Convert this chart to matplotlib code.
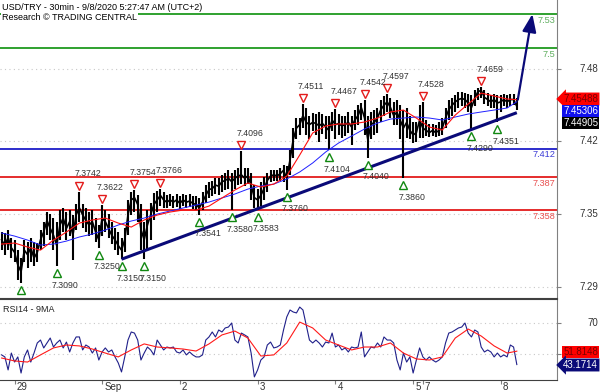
import numpy as np
import matplotlib
matplotlib.use("Agg")
import matplotlib.pyplot as plt
from matplotlib.transforms import offset_copy

plt.rcParams["font.family"] = ["Liberation Sans", "DejaVu Sans"]

# USD/TRY, one point per trading hour
close = [7.332, 7.327, 7.334, 7.325, 7.321, 7.310, 7.304, 7.323, 7.319, 7.325,
         7.316, 7.321, 7.332, 7.339, 7.349, 7.342, 7.336, 7.327, 7.345, 7.351,
         7.342, 7.348, 7.336, 7.354, 7.360, 7.354, 7.349, 7.345, 7.348, 7.339,
         7.332, 7.351, 7.348, 7.342, 7.336, 7.332, 7.327, 7.323, 7.332, 7.354,
         7.367, 7.369, 7.363, 7.341, 7.332, 7.345, 7.354, 7.363, 7.367, 7.371,
         7.367, 7.365, 7.367, 7.365, 7.367, 7.364, 7.367, 7.365, 7.366, 7.364,
         7.363, 7.360, 7.365, 7.371, 7.376, 7.377, 7.380, 7.379, 7.383, 7.384,
         7.386, 7.383, 7.386, 7.388, 7.389, 7.386, 7.388, 7.380, 7.369, 7.367,
         7.371, 7.377, 7.384, 7.388, 7.389, 7.388, 7.390, 7.393, 7.386, 7.402,
         7.420, 7.430, 7.433, 7.441, 7.435, 7.433, 7.435, 7.434, 7.432, 7.434,
         7.431, 7.428, 7.437, 7.433, 7.434, 7.432, 7.433, 7.435, 7.431, 7.437,
         7.441, 7.448, 7.439, 7.420, 7.433, 7.435, 7.439, 7.446, 7.450, 7.453,
         7.448, 7.441, 7.444, 7.437, 7.430, 7.435, 7.428, 7.424, 7.426, 7.437,
         7.430, 7.428, 7.426, 7.428, 7.426, 7.428, 7.430, 7.439, 7.446, 7.450,
         7.453, 7.455, 7.456, 7.455, 7.452, 7.448, 7.456, 7.462, 7.463, 7.457,
         7.455, 7.453, 7.455, 7.452, 7.453, 7.455, 7.453, 7.455, 7.455, 7.44905]
high = [7.339, 7.338, 7.341, 7.334, 7.332, 7.323, 7.316, 7.332, 7.330, 7.334,
        7.330, 7.329, 7.341, 7.348, 7.356, 7.355, 7.351, 7.348, 7.358, 7.360,
        7.356, 7.358, 7.354, 7.363, 7.3742, 7.363, 7.360, 7.356, 7.358, 7.351,
        7.345, 7.3622, 7.358, 7.355, 7.348, 7.342, 7.339, 7.334, 7.342, 7.367,
        7.374, 7.3754, 7.371, 7.363, 7.348, 7.358, 7.364, 7.373, 7.375, 7.3766,
        7.374, 7.371, 7.372, 7.370, 7.372, 7.370, 7.372, 7.371, 7.372, 7.370,
        7.370, 7.369, 7.374, 7.380, 7.383, 7.384, 7.386, 7.386, 7.389, 7.391,
        7.393, 7.391, 7.393, 7.395, 7.4096, 7.395, 7.395, 7.391, 7.380, 7.377,
        7.383, 7.387, 7.391, 7.393, 7.393, 7.393, 7.395, 7.398, 7.397, 7.411,
        7.430, 7.439, 7.439, 7.4511, 7.448, 7.441, 7.443, 7.442, 7.444, 7.442,
        7.441, 7.441, 7.444, 7.4467, 7.442, 7.441, 7.441, 7.444, 7.441, 7.446,
        7.450, 7.452, 7.4542, 7.441, 7.444, 7.446, 7.448, 7.455, 7.458, 7.4597,
        7.456, 7.453, 7.455, 7.450, 7.446, 7.448, 7.441, 7.435, 7.435, 7.450,
        7.4528, 7.437, 7.434, 7.434, 7.433, 7.435, 7.439, 7.448, 7.455, 7.456,
        7.459, 7.462, 7.462, 7.461, 7.460, 7.459, 7.463, 7.465, 7.4659, 7.463,
        7.461, 7.459, 7.460, 7.459, 7.459, 7.460, 7.459, 7.460, 7.460, 7.456]
low = [7.323, 7.319, 7.323, 7.316, 7.313, 7.297, 7.2941, 7.313, 7.307, 7.313,
       7.309, 7.313, 7.323, 7.327, 7.336, 7.332, 7.323, 7.3090, 7.332, 7.339,
       7.332, 7.335, 7.314, 7.341, 7.348, 7.342, 7.339, 7.335, 7.336, 7.330,
       7.3250, 7.335, 7.339, 7.334, 7.328, 7.323, 7.319, 7.3150, 7.321, 7.336,
       7.354, 7.356, 7.348, 7.323, 7.3150, 7.323, 7.332, 7.349, 7.356, 7.362,
       7.360, 7.360, 7.362, 7.360, 7.361, 7.359, 7.362, 7.360, 7.361, 7.359,
       7.358, 7.3541, 7.358, 7.364, 7.369, 7.370, 7.372, 7.371, 7.374, 7.376,
       7.377, 7.3580, 7.377, 7.380, 7.381, 7.379, 7.381, 7.367, 7.360, 7.3583,
       7.362, 7.367, 7.374, 7.383, 7.384, 7.384, 7.384, 7.383, 7.3760, 7.389,
       7.404, 7.420, 7.424, 7.430, 7.424, 7.420, 7.427, 7.424, 7.418, 7.425,
       7.420, 7.4104, 7.427, 7.420, 7.424, 7.421, 7.423, 7.426, 7.415, 7.428,
       7.433, 7.437, 7.424, 7.4040, 7.420, 7.424, 7.426, 7.435, 7.441, 7.444,
       7.439, 7.433, 7.433, 7.420, 7.3860, 7.421, 7.420, 7.417, 7.418, 7.421,
       7.421, 7.423, 7.422, 7.423, 7.422, 7.423, 7.424, 7.430, 7.437, 7.441,
       7.444, 7.448, 7.449, 7.448, 7.444, 7.4290, 7.449, 7.455, 7.456, 7.451,
       7.449, 7.448, 7.448, 7.4351, 7.444, 7.449, 7.448, 7.449, 7.450, 7.446]

# moving averages, read every 4 hours
ma_hours = list(range(0, 157, 4)) + [159]
red_ma = [7.3283, 7.3292, 7.3257, 7.3230, 7.3318, 7.3388, 7.3467, 7.3494, 7.3511, 7.3467,
          7.3432, 7.3494, 7.3537, 7.3564, 7.3581, 7.3581, 7.3616, 7.3687, 7.3757, 7.3818,
          7.3783, 7.3809, 7.3879, 7.4064, 7.4257, 7.4318, 7.4336, 7.4336, 7.4353, 7.4388,
          7.4441, 7.4458, 7.4388, 7.4309, 7.4283, 7.4414, 7.4511, 7.4607, 7.4581, 7.4555,
          7.45488]
blue_ma = [7.3380, 7.3353, 7.3318, 7.3274, 7.3283, 7.3309, 7.3345, 7.3371, 7.3406, 7.3450,
           7.3485, 7.3511, 7.3546, 7.3573, 7.3599, 7.3625, 7.3651, 7.3687, 7.3722, 7.3765,
           7.3792, 7.3809, 7.3853, 7.3915, 7.3994, 7.4090, 7.4169, 7.4230, 7.4292, 7.4344,
           7.4379, 7.4388, 7.4397, 7.4388, 7.4371, 7.4397, 7.4423, 7.4441, 7.4458, 7.4476,
           7.45306]

rsi = [49.4, 48.1, 39.7, 50.6, 44.8, 48.1, 37.7, 48.1, 52.6, 44.8,
       50.6, 57.1, 59.0, 53.9, 57.1, 60.3, 54.5, 57.1, 59.0, 53.9,
       57.7, 51.3, 57.1, 61.0, 61.0, 52.6, 55.8, 54.5, 50.6, 53.9,
       46.1, 51.3, 53.9, 51.3, 52.6, 48.1, 44.2, 38.4, 48.1, 59.0,
       64.2, 63.5, 59.0, 46.1, 50.6, 54.5, 52.6, 49.4, 59.0, 55.8,
       52.6, 54.5, 53.9, 54.5, 51.3, 50.6, 52.6, 49.4, 51.3, 49.4,
       48.1, 48.1, 49.4, 59.0, 61.0, 64.2, 61.0, 65.5, 64.2, 66.8,
       67.4, 70.0, 59.0, 57.1, 63.5, 62.3, 61.0, 50.6, 35.2, 39.7,
       46.1, 48.1, 55.8, 57.7, 53.9, 54.5, 55.8, 65.5, 73.9, 78.4,
       77.1, 76.5, 80.3, 78.4, 68.7, 59.0, 57.1, 59.0, 57.1, 54.5,
       57.7, 57.1, 63.5, 54.5, 55.8, 52.6, 53.9, 51.3, 54.5, 53.9,
       54.5, 64.2, 48.1, 51.3, 54.5, 53.9, 57.1, 54.5, 61.0, 59.0,
       59.0, 57.1, 46.1, 39.7, 50.6, 44.8, 48.1, 37.7, 46.1, 53.9,
       48.1, 46.1, 48.1, 46.1, 44.8, 46.1, 48.1, 57.1, 63.5, 64.2,
       65.5, 66.8, 67.4, 70.0, 63.5, 61.0, 65.5, 64.2, 54.5, 51.3,
       52.6, 51.3, 48.1, 50.6, 48.1, 49.4, 48.1, 55.8, 54.5, 43.1714]
rsi_ma = [47.4, 45.5, 44.8, 49.4, 53.9, 55.8, 55.2, 53.2, 50.6, 48.1,
          52.6, 56.5, 54.5, 53.9, 53.2, 51.9, 56.5, 62.3, 64.8, 60.3,
          48.7, 49.4, 57.1, 70.6, 66.8, 59.0, 55.8, 52.6, 54.5, 54.5,
          57.1, 50.6, 46.8, 46.1, 48.1, 60.3, 66.1, 61.6, 55.2, 50.6,
          51.8148]

levels = [7.53, 7.5, 7.412, 7.387, 7.358]
level_labels = ["7.53", "7.5", "7.412", "7.387", "7.358"]
trend_hours = [37, 159]
trend_prices = [7.3150, 7.4435]
target = 7.53

peak_idx = [24, 31, 41, 49, 74, 93, 103, 112, 119, 130, 148]
trough_idx = [6, 17, 30, 37, 44, 61, 71, 79, 88, 101, 113, 124, 145, 153]
unlabelled = [6]

day_ticks = [4, 31, 55, 79, 103, 127, 130, 154]
day_labels = ["29", "Sep", "2", "3", "4", "5", "7", "8"]
price_ticks = [7.4818, 7.4186, 7.3548, 7.2906]
price_tick_labels = ["7.48", "7.42", "7.35", "7.29"]

GREEN, RED, BLUE, NAVY = "#1f9a1f", "#e31b1b", "#1c1cc8", "#0a0a78"
level_colors = [GREEN, GREEN, BLUE, RED, RED]
label_colors = ["#5fae5f", "#5fae5f", "#3b3bd6", "#e85050", "#e85050"]

hours = np.arange(len(close))

fig = plt.figure(figsize=(6, 3.92), dpi=100)
ax = fig.add_axes([0, 1 - 298 / 392, 557 / 600, 298 / 392])
rax = fig.add_axes([0, 12 / 392, 557 / 600, 81 / 392])

# ---- price panel
ax.set_xlim(-0.5, 171.4)
ax.set_ylim(7.2810, 7.5423)

for v in price_ticks:
    ax.axhline(v, color="#c8c8c8", lw=0.8, ls=(0, (1, 3)), zorder=0)

for lv, lab, c, lc in zip(levels, level_labels, level_colors, label_colors):
    ax.axhline(lv, color=c, lw=1.3, zorder=1)
    ax.annotate(lab, (1, lv), xycoords=("axes fraction", "data"), xytext=(-2, -6),
                textcoords="offset pixels", ha="right", va="center", fontsize=6.6, color=lc)

ax.vlines(hours, low, high, color="black", lw=1.5, zorder=2)
ax.plot(hours, close, color="black", lw=1.2, zorder=2)
ax.plot(ma_hours, blue_ma, color="#2020ff", lw=0.7, zorder=3)
ax.plot(ma_hours, red_ma, color="#ff1010", lw=0.8, zorder=3)
ax.plot(trend_hours, trend_prices, color=NAVY, lw=2.2, zorder=4, solid_capstyle="butt")

ax.annotate("", xy=(163.8, target), xytext=(159.3, red_ma[-1]),
            arrowprops=dict(arrowstyle="-|>,head_length=0.9,head_width=0.35",
                            color=NAVY, lw=1.6, mutation_scale=12, shrinkA=0, shrinkB=0),
            zorder=5)

up = offset_copy(ax.transData, fig=fig, y=6, units="dots")
down = offset_copy(ax.transData, fig=fig, y=-7, units="dots")
ax.plot(peak_idx, [high[i] for i in peak_idx], "v", ms=6, mfc="white", mec=RED,
        mew=1, transform=up, zorder=6, clip_on=False)
ax.plot(trough_idx, [low[i] for i in trough_idx], "^", ms=6, mfc="white", mec="#118811",
        mew=1, transform=down, zorder=6, clip_on=False)
for i in peak_idx:
    ax.annotate(f"{high[i]:.4f}", (i, high[i]), xytext=(-5, 18), textcoords="offset pixels",
                ha="left", va="center", fontsize=6.3, color="#333333", zorder=7)
for i in trough_idx:
    if i in unlabelled:
        continue
    ax.annotate(f"{low[i]:.4f}", (i, low[i]), xytext=(-5, -19), textcoords="offset pixels",
                ha="left", va="center", fontsize=6.3, color="#333333", zorder=7)

ax.yaxis.tick_right()
ax.set_yticks(price_ticks, labels=[])
ax.set_xticks([])
ax.tick_params(axis="y", length=3, color="#808080")
for v, lab in zip(price_ticks, price_tick_labels):
    ax.annotate(lab, (1, v), xycoords=("axes fraction", "data"), xytext=(41, 0),
                textcoords="offset pixels", ha="right", va="center", fontsize=7,
                color="#333333", annotation_clip=False)
for s in ["left", "top"]:
    ax.spines[s].set_visible(False)
ax.spines["right"].set_color("#808080")
ax.spines["bottom"].set_color("#404040")
ax.spines["bottom"].set_linewidth(0.8)

# ---- RSI panel
rax.set_xlim(-0.5, 171.4)
rax.set_ylim(33.2, 85.5)
for v in [70, 50]:
    rax.axhline(v, color="#c8c8c8", lw=0.8, ls=(0, (1, 3)), zorder=0)
rax.plot(hours, rsi, color="#20208a", lw=0.8, zorder=2)
rax.plot(ma_hours, rsi_ma, color="#ff1a1a", lw=0.8, zorder=3)
rax.yaxis.tick_right()
rax.set_yticks([70, 50], labels=[])
rax.tick_params(axis="y", length=3, color="#808080")
rax.annotate("70", (1, 70), xycoords=("axes fraction", "data"), xytext=(41, 0),
             textcoords="offset pixels", ha="right", va="center", fontsize=7,
             color="#333333", annotation_clip=False)
rax.set_xticks(day_ticks, labels=[])
rax.tick_params(axis="x", length=3, color="#808080")
for t, lab in zip(day_ticks, day_labels):
    rax.annotate(lab, (t, 0), xycoords=("data", "axes fraction"), xytext=(2, -2),
                 textcoords="offset pixels", ha="left", va="top", fontsize=7,
                 color="#333333", annotation_clip=False)
rax.spines["left"].set_visible(False)
for s in ["top", "bottom"]:
    rax.spines[s].set_color("#404040")
    rax.spines[s].set_linewidth(0.8)
rax.spines["right"].set_color("#808080")
rax.text(3 / 557, 0.93, "RSI14 - 9MA", transform=rax.transAxes, fontsize=6.5,
         va="top", ha="left", color="#222222")

# ---- header and value badges
box = dict(facecolor="white", edgecolor="none", pad=0.5)
fig.text(2 / 600, 1 - 7 / 392, "USD/TRY - 30min - 9/8/2020 5:27:47 AM (UTC+2)",
         fontsize=6.5, va="center", ha="left", bbox=box, zorder=10)
fig.text(2 / 600, 1 - 18 / 392, "Research \u00a9 TRADING CENTRAL",
         fontsize=6.5, va="center", ha="left", bbox=box, zorder=10)

badges = [(99, f"{red_ma[-1]:.5f}", "#ff0000", "#7a0000", True),
          (111, f"{blue_ma[-1]:.5f}", "#1010ee", "white", False),
          (123, f"{close[-1]:.5f}", "black", "white", False),
          (352, f"{rsi_ma[-1]:.4f}", "#ff0000", "#7a0000", False),
          (365, f"{rsi[-1]:.4f}", NAVY, "white", True)]
for ypx, txt, bg, fg, arrow in badges:
    style = "larrow,pad=0.15" if arrow else "square,pad=0.15"
    fig.text(1 - 2 / 600, 1 - ypx / 392, txt, fontsize=7, ha="right", va="center",
             color=fg, bbox=dict(boxstyle=style, facecolor=bg, edgecolor="none"))

fig.savefig("out.png", dpi=100)
